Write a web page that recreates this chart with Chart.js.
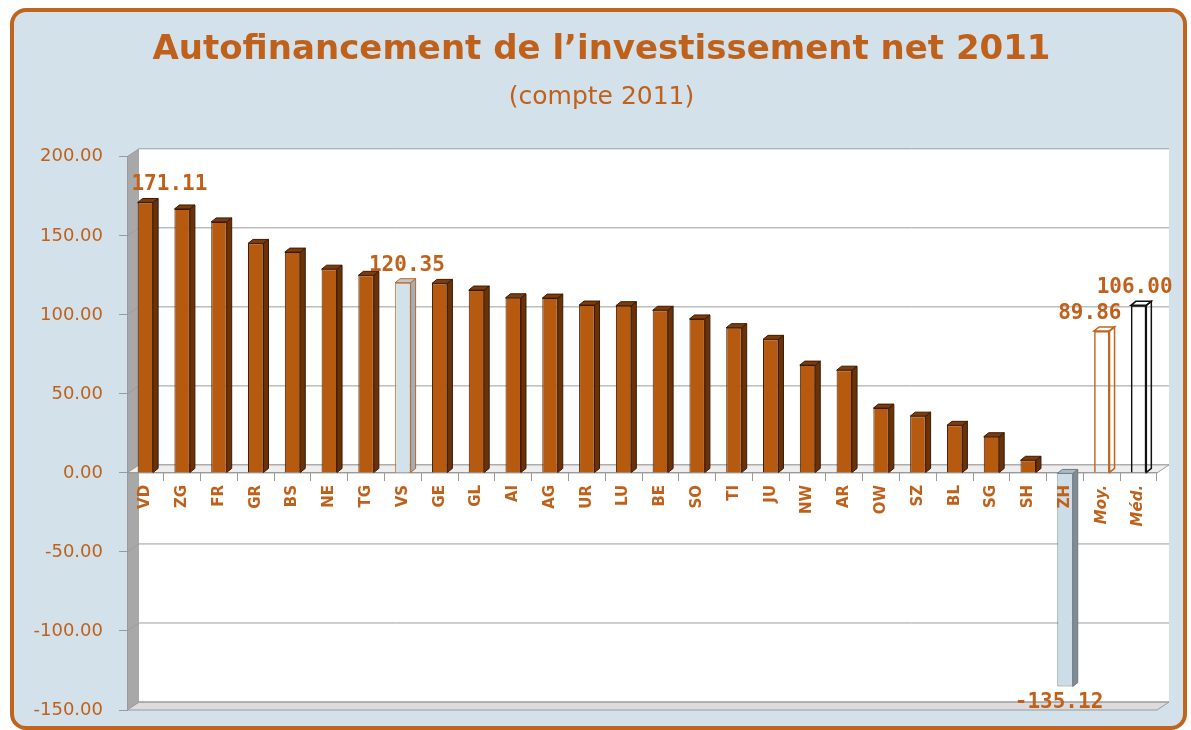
<!DOCTYPE html>
<html>
<head>
<meta charset="utf-8">
<title>Autofinancement de l'investissement net 2011</title>
<script src="https://cdn.jsdelivr.net/npm/chart.js@4.4.1/dist/chart.umd.min.js"></script>
<style>
  html, body { margin: 0; padding: 0; background: #ffffff; }
  #frame {
    position: absolute; left: 10px; top: 8px;
    width: 1169px; height: 714px;
    border: 4px solid #c0651e; border-radius: 16px;
    background: #d2e1ea;
  }
  #chart { position: absolute; left: 0; top: 0; }
</style>
</head>
<body>
<div id="frame"></div>
<canvas id="chart" width="1191" height="730"></canvas>
<script>
// Cantons sorted by value, then mean and median
const cantons = ['VD', 'ZG', 'FR', 'GR', 'BS', 'NE', 'TG', 'VS', 'GE', 'GL', 'AI', 'AG', 'UR', 'LU',
    'BE', 'SO', 'TI', 'JU', 'NW', 'AR', 'OW', 'SZ', 'BL', 'SG', 'SH', 'ZH', 'Moy.', 'Méd.'];
const values = [171.11, 167.0, 158.8, 145.2, 139.7, 128.9, 125.0, 120.35, 119.9, 115.7, 110.8, 110.6, 106.2, 105.8,
    102.9, 97.4, 91.9, 84.5, 68.2, 65.0, 41.0, 35.9, 30.1, 22.9, 8.0, -135.12, 89.86, 106.00];
// only these bars carry a value label
const labelled = ['VD', 'VS', 'ZH', 'Moy.', 'Méd.'];

const ORANGE = '#c0611b';
const BROWN = '#b65a10';
const FONT = '"Comic Sans MS", "DejaVu Sans", sans-serif';

// styles per bar
function fillFor(c) {
    if (c === 'VS') return '#d2e1ea';
    if (c === 'ZH') return '#cddde7';
    if (c === 'Moy.' || c === 'Méd.') return 'rgba(0,0,0,0)';
    return BROWN;
}
function borderFor(c) {
    if (c === 'VS' || c === 'Moy.') return '#c0651e';
    if (c === 'ZH') return '#6f7a80';
    if (c === 'Méd.') return '#111111';
    return '#3a1a05';
}
function sideFor(c) {
    if (c === 'VS') return '#9fb0bb';
    if (c === 'ZH') return '#7e8c95';
    if (c === 'Moy.' || c === 'Méd.') return null;
    return '#6b3208';
}
function topFor(c) {
    if (c === 'VS') return '#b9c8d2';
    if (c === 'ZH') return '#a9bac4';
    if (c === 'Moy.' || c === 'Méd.') return null;
    return '#7e3c0b';
}

const DX = 12, DY = 8;      // back wall offset
const BDX = 5, BDY = 4;     // bar depth

// back wall, floor and grid lines drawn in a fake 3d look
const wallPlugin = {
    id: 'wall',
    beforeDraw(chart) {
        const { ctx, chartArea: a, scales: { y } } = chart;
        const L = a.left, R = a.right, T = a.top, B = a.bottom;
        ctx.save();
        ctx.fillStyle = '#ffffff';
        ctx.fillRect(L + DX, T - DY, R - L, B - T);
        // left wall
        ctx.fillStyle = '#a8a8a8';
        ctx.beginPath();
        ctx.moveTo(L, T); ctx.lineTo(L + DX, T - DY); ctx.lineTo(L + DX, B - DY); ctx.lineTo(L, B);
        ctx.closePath(); ctx.fill();
        // bottom floor
        ctx.fillStyle = '#dcdcdc';
        ctx.strokeStyle = '#9a9a9a';
        ctx.lineWidth = 1;
        ctx.beginPath();
        ctx.moveTo(L, B); ctx.lineTo(L + DX, B - DY); ctx.lineTo(R + DX, B - DY); ctx.lineTo(R, B);
        ctx.closePath(); ctx.fill(); ctx.stroke();
        // grid lines
        ctx.strokeStyle = '#9d9d9d';
        y.ticks.forEach(t => {
            const py = y.getPixelForValue(t.value);
            ctx.beginPath();
            ctx.moveTo(L, py); ctx.lineTo(L + DX, py - DY); ctx.lineTo(R + DX, py - DY);
            ctx.stroke();
        });
        // zero floor
        const y0 = y.getPixelForValue(0);
        ctx.fillStyle = '#eeeeee';
        ctx.beginPath();
        ctx.moveTo(L, y0); ctx.lineTo(L + DX, y0 - DY); ctx.lineTo(R + DX, y0 - DY); ctx.lineTo(R, y0);
        ctx.closePath(); ctx.fill(); ctx.stroke();
        ctx.restore();
    },
    afterDatasetsDraw(chart) {
        const { ctx } = chart;
        const meta = chart.getDatasetMeta(0);
        ctx.save();
        meta.data.forEach((bar, i) => {
            const c = cantons[i];
            const { x, y, base, width } = bar.getProps(['x', 'y', 'base', 'width'], true);
            const top = Math.min(y, base), bot = Math.max(y, base);
            const xr = x + width / 2, xl = x - width / 2;
            const side = sideFor(c), lid = topFor(c);
            ctx.lineWidth = (c === 'Moy.' || c === 'Méd.') ? 1.5 : 1;
            ctx.strokeStyle = borderFor(c);
            // side face
            ctx.beginPath();
            ctx.moveTo(xr, top); ctx.lineTo(xr + BDX, top - BDY); ctx.lineTo(xr + BDX, bot - BDY); ctx.lineTo(xr, bot);
            ctx.closePath();
            if (side) { ctx.fillStyle = side; ctx.fill(); }
            ctx.stroke();
            // top face
            ctx.beginPath();
            ctx.moveTo(xl, top); ctx.lineTo(xl + BDX, top - BDY); ctx.lineTo(xr + BDX, top - BDY); ctx.lineTo(xr, top);
            ctx.closePath();
            if (lid) { ctx.fillStyle = lid; ctx.fill(); }
            ctx.stroke();
        });
        // value labels
        ctx.font = 'bold 21px "DejaVu Sans Mono", monospace';
        ctx.fillStyle = ORANGE;
        ctx.textAlign = 'center';
        const nudge = { 'VD': 24, 'VS': 4, 'ZH': -6, 'Moy.': -12, 'Méd.': -4 };
        meta.data.forEach((bar, i) => {
            const c = cantons[i];
            if (!labelled.includes(c)) return;
            const { x, y } = bar.getProps(['x', 'y'], true);
            const v = values[i];
            if (v >= 0) {
                ctx.textBaseline = 'bottom';
                ctx.fillText(v.toFixed(2), x + nudge[c], y - 7);
            } else {
                ctx.textBaseline = 'top';
                ctx.fillText(v.toFixed(2), x + nudge[c], y + 6);
            }
        });
        ctx.restore();
    }
};

new Chart(document.getElementById('chart'), {
    type: 'bar',
    data: {
        labels: cantons,
        datasets: [{
            data: values,
            backgroundColor: cantons.map(fillFor),
            borderColor: cantons.map(borderFor),
            borderWidth: cantons.map(c => (c === 'Moy.' || c === 'Méd.') ? 1.5 : 1),
            barPercentage: 0.42,
            categoryPercentage: 1.0
        }]
    },
    options: {
        responsive: false,
        animation: false,
        layout: { padding: { left: 12, right: 0, top: 0, bottom: 20 } },
        plugins: {
            legend: { display: false },
            tooltip: { enabled: false },
            title: {
                display: true,
                text: 'Autofinancement de l’investissement net 2011',
                color: ORANGE,
                font: { family: FONT, size: 34, weight: 'bold' },
                padding: { top: 30, bottom: 12 }
            },
            subtitle: {
                display: true,
                text: '(compte 2011)',
                color: ORANGE,
                font: { family: FONT, size: 25, weight: 'normal' },
                padding: { top: 0, bottom: 44 }
            }
        },
        scales: {
            x: {
                position: { y: 0 },
                offset: true,
                grid: { drawOnChartArea: false, drawTicks: true, tickLength: 8, color: '#9a9a9a' },
                border: { display: true, color: '#9a9a9a' },
                ticks: {
                    z: 1,   // labels above the bars (ZH sits on its bar)
                    autoSkip: false,
                    maxRotation: 90,
                    minRotation: 90,
                    padding: 4,
                    color: ORANGE,
                    font: (ctx) => ({
                        family: FONT, size: 15, weight: 'bold',
                        style: ctx.index >= 26 ? 'italic' : 'normal'
                    })
                }
            },
            y: {
                min: -150,
                max: 200,
                afterFit: (scale) => {
                    scale.width = 115;
                    scale.paddingTop = 0;
                    scale.paddingBottom = 0;
                },
                grid: { drawOnChartArea: false, drawTicks: true, tickLength: 8, color: '#9a9a9a' },
                border: { display: true, color: '#9a9a9a' },
                ticks: {
                    stepSize: 50,
                    padding: 16,
                    color: ORANGE,
                    font: { family: FONT, size: 18 },
                    callback: (v) => Number(v).toFixed(2)
                }
            },
            // empty right axis, only keeps room on the right so the title stays centred
            yRight: {
                position: 'right',
                min: -150,
                max: 200,
                afterFit: (scale) => { scale.width = 34; },
                grid: { display: false },
                border: { display: false },
                ticks: { display: false }
            }
        }
    },
    plugins: [wallPlugin]
});
</script>
</body>
</html>
